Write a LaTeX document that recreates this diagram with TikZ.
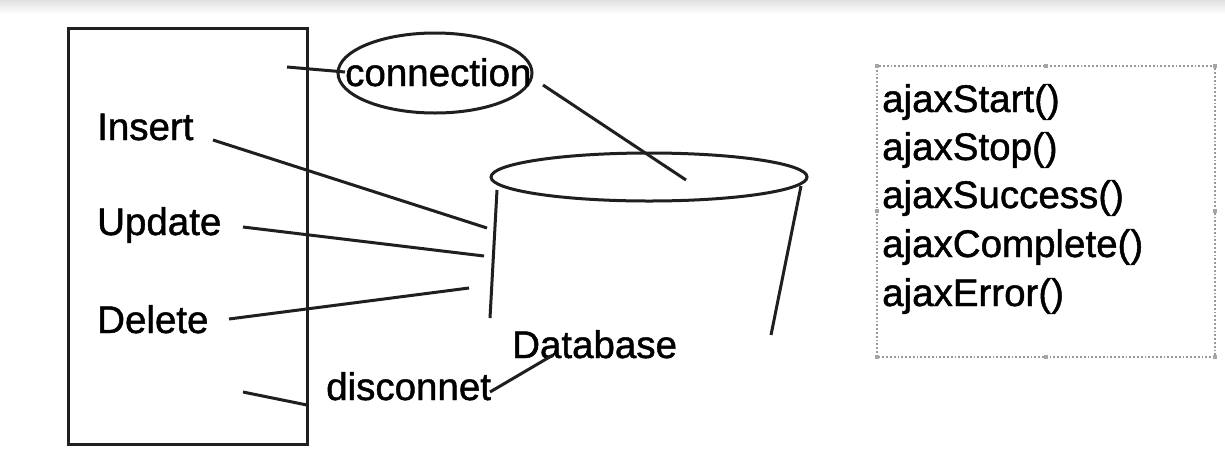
\documentclass[tikz,border=0pt]{standalone}
\usepackage{fontspec}
\setmainfont{Liberation Sans}[FakeBold=1.2]
\begin{document}
\begin{tikzpicture}[x=1pt,y=-1pt,
  txt/.style={font=\fontsize{38.5}{46}\selectfont, inner sep=0pt, anchor=base west},
  ln/.style={line width=3pt, black!88},
  handle/.style={fill=black!35, minimum size=4pt, inner sep=0pt}]
\useasboundingbox (0,0) rectangle (1225,456);
\fill[white] (0,0) rectangle (1225,456);
\shade[top color=black!12, bottom color=white] (0,0) rectangle (1225,14);
% left box
\draw[ln] (68,28) rectangle (307,444);
% labels
\node[txt] (ins) at (97,140) {Insert};
\node[txt] (upd) at (97,235) {Update};
\node[txt] (del) at (97,333) {Delete};
\node[txt] (disc) at (326,400) {disconnet};
\node[txt] (db) at (512,358) {Database};
% connection ellipse
\draw[ln] (435,73) ellipse [x radius=97, y radius=40];
\node[txt] (conn) at (345,86) {connection};
% cylinder
\draw[ln] (649,177) ellipse [x radius=158, y radius=24];
\coordinate (cl1) at (497,190); \coordinate (cl2) at (490,318);
\coordinate (cr1) at (801,186); \coordinate (cr2) at (771,335);
\draw[ln] (cl1) -- (cl2);
\draw[ln] (cr1) -- (cr2);
% connectors
\coordinate (c0) at (287,67); \coordinate (c1) at (345,72);
\draw[ln] (c0) -- (c1);
\coordinate (e1) at (543,85); \coordinate (e2) at (686,180);
\draw[ln] (e1) -- (e2);
\coordinate (i1) at (213,140); \coordinate (i2) at (487,228);
\draw[ln] (i1) -- (i2);
\coordinate (u1) at (243,227); \coordinate (u2) at (484,256);
\draw[ln] (u1) -- (u2);
\coordinate (d1) at (229,319); \coordinate (d2) at (469,288);
\draw[ln] (d1) -- (d2);
\coordinate (x1) at (243,392); \coordinate (x2) at (307,405);
\draw[ln] (x1) -- (x2);
\coordinate (y1) at (490,392); \coordinate (y2) at (553,355);
\draw[ln] (y1) -- (y2);
% right dotted box
\draw[black!40, line width=1.8pt, dotted] (877,66) rectangle (1215,357);
\foreach \p in {(877,66),(1046,66),(1215,66),(877,211),(1215,211),(877,357),(1046,357),(1215,357)}
  \node[handle] at \p {};
\node[txt] (a1) at (882,112) {ajaxStart()};
\node[txt] (a2) at (882,160) {ajaxStop()};
\node[txt] (a3) at (882,208) {ajaxSuccess()};
\node[txt] (a4) at (882,257) {ajaxComplete()};
\node[txt] (a5) at (882,306) {ajaxError()};
\end{tikzpicture}
\end{document}
